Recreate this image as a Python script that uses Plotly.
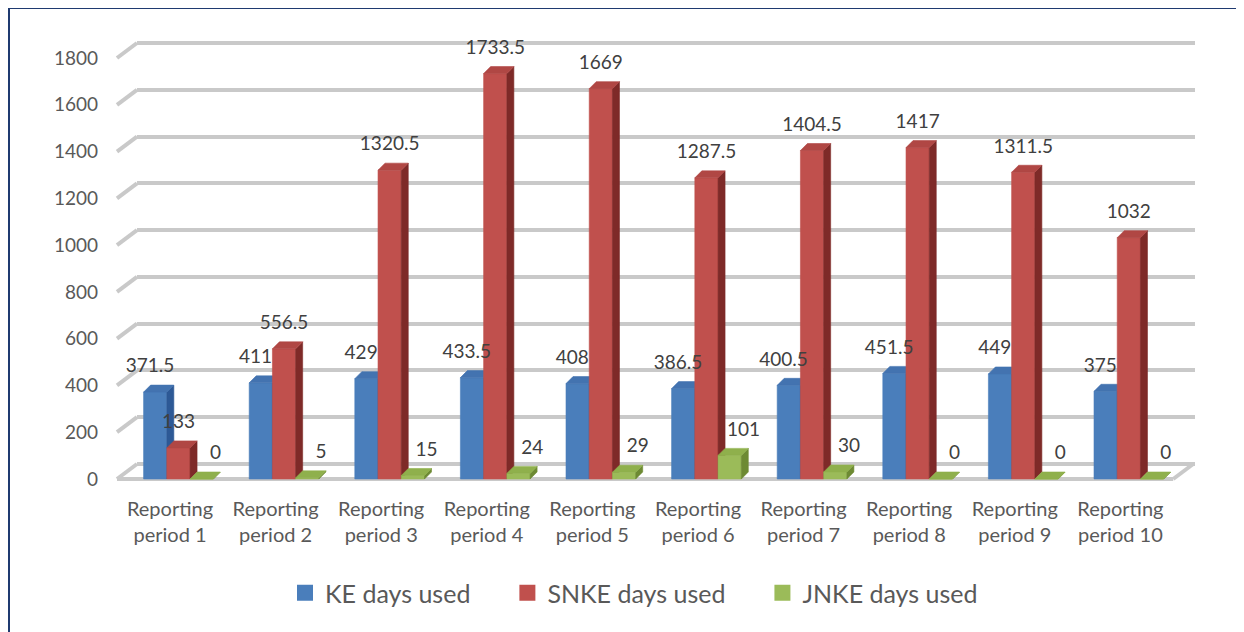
import plotly.graph_objects as go

# ---------------- data ----------------
categories = [f"Reporting<br>period {i}" for i in range(1, 11)]
series_names = ["KE days used", "SNKE days used", "JNKE days used"]
ke_days = [371.5, 411, 429, 433.5, 408, 386.5, 400.5, 451.5, 449, 375]
snke_days = [133, 556.5, 1320.5, 1733.5, 1669, 1287.5, 1404.5, 1417, 1311.5, 1032]
jnke_days = [0, 5, 15, 24, 29, 101, 30, 0, 0, 0]
y_ticks = [0, 200, 400, 600, 800, 1000, 1200, 1400, 1600, 1800]

# ---------------- styling / geometry ----------------
W, H = 1244, 632
OFFX, OFFY = 8, 7                         # page body margin of the html page
def SX(p):
    return p - OFFX
def SY(p):
    return p - OFFY

L, R, T, B = SX(137), SX(1195), SY(40), SY(484)   # plot area in figure px
PXX = 105.6                               # px per category
CAT0 = SX(170)                            # px of first category (front plane)
KY = 421 / 1800                           # px per value unit
Y0PX = SY(478)                            # px of value 0 (front plane)
DEPTH_X, DEPTH_Y = 20, 15                 # wall depth in px

x0 = -(CAT0 - L) / PXX
x1 = x0 + (R - L) / PXX
y0 = -(B - Y0PX) / KY
y1 = (Y0PX - T) / KY

BAR_W = 0.22
OFFS = [-0.14, 0.08, 0.30]
DX = 7 / PXX
DY = 7 / KY
LABEL_DX = [-0.05, 0.0, 0.13]
LABEL_PAD = 8 / KY

front_cols = ["#4a7ebb", "#c0504d", "#9bbb59"]
side_cols = ["#2d5996", "#7e2a28", "#6d8a33"]
top_cols = ["#4373b0", "#b04744", "#8fb04c"]

def px_x(p):
    return (p - L) / (R - L)

def px_y(p):
    return (B - p) / (B - T)

fig = go.Figure()

all_vals = [ke_days, snke_days, jnke_days]

for s, vals in enumerate(all_vals):
    fx, fy, sx, sy, tx, ty = [], [], [], [], [], []
    for i, v in enumerate(vals):
        xl = i + OFFS[s] - BAR_W / 2
        xr = i + OFFS[s] + BAR_W / 2
        fx += [xl, xr, xr, xl, xl, None]
        fy += [0, 0, v, v, 0, None]
        sx += [xr, xr + DX, xr + DX, xr, xr, None]
        sy += [0, DY, v + DY, v, 0, None]
        tx += [xl, xr, xr + DX, xl + DX, xl, None]
        ty += [v, v, v + DY, v + DY, v, None]
    for xs, ys, col in [(fx, fy, front_cols[s]), (sx, sy, side_cols[s]), (tx, ty, top_cols[s])]:
        fig.add_trace(go.Scatter(
            x=xs, y=ys, mode="lines", fill="toself", fillcolor=col,
            line=dict(color=col, width=0.6), showlegend=False,
            hoverinfo="skip", xaxis="x", yaxis="y"))

# data labels
for s, vals in enumerate(all_vals):
    fig.add_trace(go.Scatter(
        x=[i + OFFS[s] + LABEL_DX[s] for i in range(len(vals))],
        y=[v + DY + LABEL_PAD for v in vals],
        mode="text", text=[f"{v:g}" for v in vals],
        textposition="top center",
        textfont=dict(family="Lato, Open Sans, sans-serif", size=19, color="#404040"),
        showlegend=False, hoverinfo="skip", cliponaxis=False,
        xaxis="x", yaxis="y"))

# legend entries (non-breaking spaces widen the gap between entries)
NB = "\u00a0" * 5
for s, name in enumerate(series_names):
    fig.add_trace(go.Scatter(x=[None], y=[None], name=name + (NB if s < 2 else ""),
                             mode="markers",
                             marker=dict(symbol="square", size=16, color=front_cols[s],
                                         line=dict(width=0)),
                             xaxis="x", yaxis="y"))

# invisible trace on the back axes so their gridlines render
fig.add_trace(go.Scatter(x=[None], y=[None], xaxis="x2", yaxis="y2",
                         showlegend=False, hoverinfo="skip"))

grid_col = "#c9c9c9"
shapes = []
for v in y_ticks:
    fy_px = Y0PX - v * KY
    shapes.append(dict(type="line", xref="paper", yref="paper",
                       x0=px_x(L - DEPTH_X), y0=px_y(fy_px),
                       x1=px_x(L), y1=px_y(fy_px - DEPTH_Y),
                       line=dict(color=grid_col, width=4), layer="below"))
floor_right = CAT0 + (len(categories) - 0.5) * PXX
shapes.append(dict(type="line", xref="paper", yref="paper",
                   x0=px_x(L - DEPTH_X), y0=px_y(Y0PX), x1=px_x(floor_right), y1=px_y(Y0PX),
                   line=dict(color=grid_col, width=4), layer="below"))
shapes.append(dict(type="line", xref="paper", yref="paper",
                   x0=px_x(floor_right), y0=px_y(Y0PX), x1=px_x(floor_right + DEPTH_X),
                   y1=px_y(Y0PX - DEPTH_Y),
                   line=dict(color=grid_col, width=4), layer="below"))
# outer frame: only the left and top edges are visible
frame_col = "#1f3a70"
shapes.append(dict(type="line", xref="paper", yref="paper",
                   x0=px_x(1), y0=px_y(0), x1=px_x(1), y1=px_y(H + 20),
                   line=dict(color=frame_col, width=2), layer="below"))
shapes.append(dict(type="line", xref="paper", yref="paper",
                   x0=px_x(0), y0=px_y(0), x1=px_x(W + 20), y1=px_y(0),
                   line=dict(color=frame_col, width=2), layer="below"))

font_family = "Lato, Open Sans, sans-serif"
fig.update_layout(
    width=W, height=H,
    margin=dict(l=L, r=W - R, t=T, b=H - B, autoexpand=False),
    paper_bgcolor="white", plot_bgcolor="rgba(0,0,0,0)",
    font=dict(family=font_family, color="#595959"),
    xaxis=dict(range=[x0, x1], tickvals=list(range(len(categories))), ticktext=categories,
               showgrid=False, zeroline=False, showline=False, ticks="",
               tickfont=dict(size=20, color="#595959"), ticklabelstandoff=10,
               automargin=False, fixedrange=True),
    yaxis=dict(range=[y0, y1], tickvals=y_ticks, ticktext=[str(t) for t in y_ticks],
               showgrid=False, zeroline=False, showline=False, ticks="",
               tickfont=dict(size=19, color="#595959"), ticklabelstandoff=38,
               automargin=False, fixedrange=True),
    xaxis2=dict(range=[x0 - DEPTH_X / PXX, x1 - DEPTH_X / PXX], overlaying="x",
                showgrid=False, zeroline=False, showticklabels=False, ticks="",
                automargin=False),
    yaxis2=dict(range=[y0 - DEPTH_Y / KY, y1 - DEPTH_Y / KY], overlaying="y",
                tickvals=y_ticks, showgrid=True, gridcolor=grid_col, gridwidth=4,
                zeroline=False, showticklabels=False, ticks="", layer="below traces",
                automargin=False),
    legend=dict(orientation="h", xref="container", yref="container",
                x=SX(634) / W, y=1 - SY(592) / H, xanchor="center", yanchor="middle",
                font=dict(size=25, color="#595959"), itemwidth=30,
                bgcolor="rgba(0,0,0,0)"),
    shapes=shapes,
    showlegend=True,
)

fig.write_html("out.html")
